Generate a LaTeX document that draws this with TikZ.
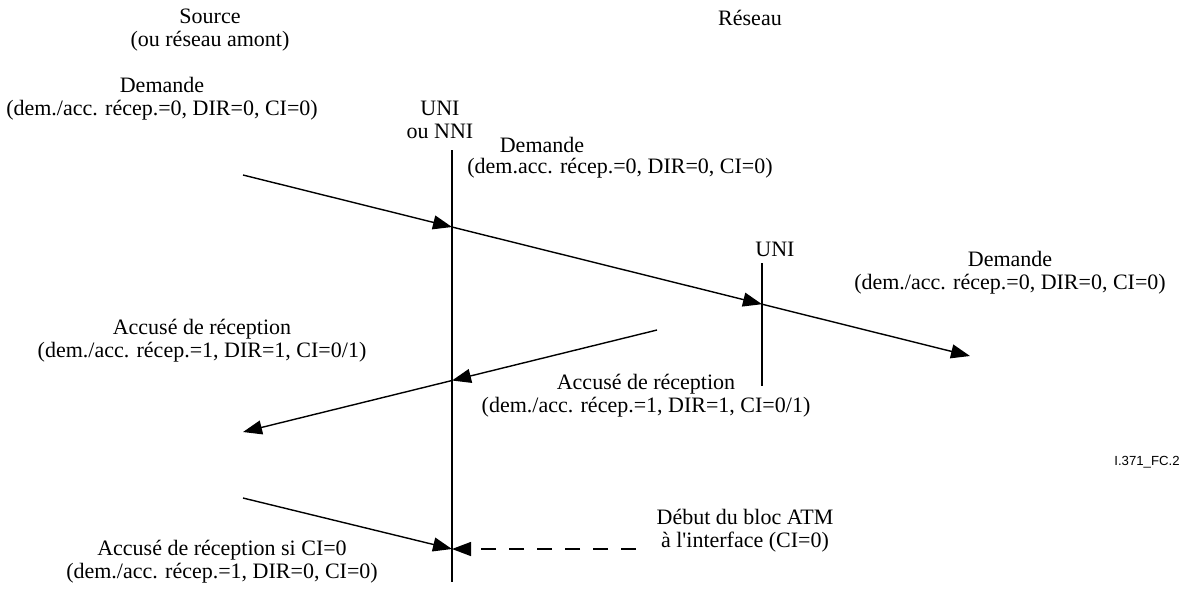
\documentclass[tikz,border=0pt]{standalone}
\usepackage{fontspec}
\setmainfont{Liberation Serif}
\newfontfamily\codefont{Liberation Sans}
\usetikzlibrary{arrows.meta}

\begin{document}
\begin{tikzpicture}[x=0.5pt, y=-0.5pt,
    every node/.style={inner sep=0pt, align=center, font=\fontsize{11pt}{11.5pt}\selectfont},
    msg/.style={line width=0.7pt, -{Triangle[length=9.5pt, width=7pt]}},
    iface/.style={line width=0.7pt}]
    \useasboundingbox (0,0) rectangle (1187,591);

    % Nodes
    \node (src) at (210,30) {Source\\(ou réseau amont)};
    \node (res) at (750,18) {Réseau};
    \node (lab1) at (162,99) {Demande\\(dem./acc. récep.=0, DIR=0, CI=0)};
    \node (uni1) at (440,120) {UNI\\ou NNI};
    \node (lab2a) at (542,145) {Demande};
    \node (lab2b) at (620,168) {(dem.acc. récep.=0, DIR=0, CI=0)};
    \node (uni2) at (775,249) {UNI};
    \node (lab3) at (1010,273) {Demande\\(dem./acc. récep.=0, DIR=0, CI=0)};
    \node (lab4) at (202,341) {Accusé de réception\\(dem./acc. récep.=1, DIR=1, CI=0/1)};
    \node (lab5) at (646,396) {Accusé de réception\\(dem./acc. récep.=1, DIR=1, CI=0/1)};
    \node (code) at (1147,462) {\codefont\fontsize{6.6pt}{7pt}\selectfont I.371\_FC.2};
    \node (lab6) at (745,531) {Début du bloc ATM\\à l\textquotesingle interface (CI=0)};
    \node (lab7) at (222,562) {Accusé de réception si CI=0\\(dem./acc. récep.=1, DIR=0, CI=0)};

    % Interfaces
    \coordinate (if1t) at (452,150);
    \coordinate (if1b) at (452,582);
    \coordinate (if2t) at (762,263);
    \coordinate (if2b) at (762,386);
    \draw[iface] (if1t) -- (if1b);
    \draw[iface] (if2t) -- (if2b);

    % Points
    \coordinate (d0) at (243,175);
    \coordinate (d1) at (452,227);
    \coordinate (d2) at (762,304.2);
    \coordinate (d3) at (970,356);
    \coordinate (a0) at (657,330);
    \coordinate (a1) at (452,380.5);
    \coordinate (a2) at (243,432);
    \coordinate (c0) at (243,498);
    \coordinate (c1) at (452,549);
    \coordinate (b0) at (636,549);

    % Arrows
    \draw[msg] (d0) -- (d1);
    \draw[msg] (d1) -- (d2);
    \draw[msg] (d2) -- (d3);
    \draw[msg] (a0) -- (a1);
    \draw[msg] (a1) -- (a2);
    \draw[msg] (c0) -- (c1);
    \draw[msg, dash pattern=on 7.5pt off 6.5pt] (b0) -- (c1);
\end{tikzpicture}
\end{document}
